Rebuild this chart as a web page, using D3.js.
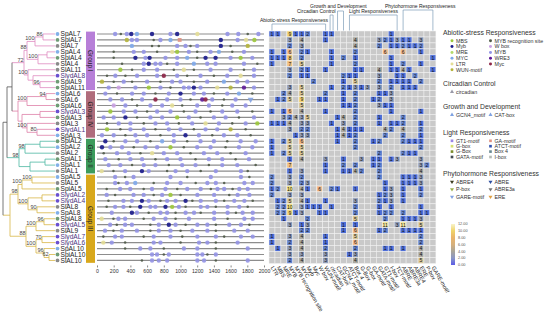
<!DOCTYPE html>
<html>
<head>
<meta charset="utf-8">
<script src="https://cdn.jsdelivr.net/npm/d3@7"></script>
<style>
body { margin: 0; background: #fff; }
svg { font-family: "Liberation Sans", Arial, sans-serif; }
</style>
</head>
<body>
<svg id="chart" width="550" height="323"></svg>
<script>
// ---- data ----
var rowNames = ["SpAL7","SpiAL7","SlAL7","SpAL4","SpiAL4","SlAL4","SlAL11","SlydAL8","SpiAL9","SpiAL11",
  "SpAL6","SlAL6","SpiAL6","SlydAL3","SpiAL3","SlAL3","SlydAL1","SpAL3",
  "SpiAL2","SpAL2","SlAL2","SpiAL1","SpAL1","SlAL1",
  "SpAL5","SlAL5","SpiAL5","SlydAL2","SlydAL4","SlAL8","SpAL8","SpiAL8","SlydAL5","SlAL9","SlydAL7","SlydAL6","SpAL10","SpiAL10","SlAL10"];

var groupNames = ["Group I", "Group IV", "Group II", "Group III"];
var groupSizes = [10, 8, 6, 15];

// tree topology: leaves are row indices, labels are bootstrap values, :n branch lengths
var treeNewick = "(((" +
  "((((0,1)86:8,2)100:8,((3,4):9,5)100:11)88:3,(6,(7,(8,9)96:7):5)100:4)72:12," +
  "(((10,11)94:19,12)100:9,((13,14):18,(15,(16,17)80:10)100:5):4):6):5," +
  "(((18,19):15,20)98:6,((21,22):15,23):11)98:12):4," +
  "((((24,25)100:10,26)100:4,((27,28):14,(29,30)90:9)100:10)98:8," +
  "(((31,32)96:8,33)100:10,((34,35)70:6,(36,(37,38)62:5)96:8)100:10)88:16):7)";

var colNames = ["LTR","MBS","MRE","MYB","MYB recognition site","MYC","Myb","Myc","W box","WUN-motif",
  "circadian","CAT-box","GCN4_motif",
  "ATCT-motif","Box 4","G-Box","G-box","GA-motif","GATA-motif","GT1-motif","I-box","TCT-motif",
  "ABRE","ABRE3a","ABRE4","ERE","P-box","GARE-motif"];
var colGroupNames = ["Abiotic-stress Responsiveness","Circadian Control","Growth and Development","Light Responsiveness","Phytohormone Responsiveness"];
var colGroupSizes = [10, 1, 2, 9, 6];

var counts = [
  [1,1,0,9,1,1,2,0,0,1,1,0,0,0,0,0,0,0,0,0,1,0,0,0,0,0,0,0],
  [0,0,0,3,0,4,0,0,0,1,0,0,0,0,4,0,0,0,3,2,1,3,1,1,0,3,0,0],
  [0,0,0,2,0,3,0,0,0,0,0,0,0,0,4,0,0,0,2,0,1,1,2,1,1,2,0,0],
  [1,0,1,6,0,2,1,0,0,0,1,0,0,0,2,0,0,0,0,6,0,0,6,0,0,1,0,0],
  [1,1,1,8,0,2,0,0,0,0,1,0,2,0,1,0,0,0,0,0,1,0,0,0,0,0,0,1],
  [1,0,0,7,0,5,0,0,0,0,1,0,0,0,2,0,0,0,0,0,1,0,2,0,0,1,0,0],
  [0,0,0,3,0,2,1,0,0,1,0,0,0,0,1,1,0,0,4,0,1,1,4,1,0,0,0,1],
  [0,0,0,2,0,1,1,0,0,0,0,0,2,1,1,0,0,0,3,0,0,1,1,0,2,0,0,0],
  [0,0,0,0,0,0,0,2,0,0,0,0,1,0,5,0,0,0,2,0,1,1,1,1,0,2,0,0],
  [0,0,0,3,0,5,0,0,0,0,1,0,2,1,3,1,3,0,3,0,2,0,1,1,1,0,0,0],
  [0,0,2,4,0,5,0,0,0,2,0,0,1,0,2,0,0,0,1,1,3,0,0,0,0,0,0,0],
  [0,1,2,5,0,9,0,0,1,1,0,0,1,0,2,0,0,1,2,0,3,0,0,0,0,0,0,0],
  [0,0,0,0,0,5,0,0,0,0,0,0,1,1,2,0,0,0,3,1,1,0,0,0,0,0,0,0],
  [1,0,1,6,0,4,0,0,0,1,0,0,0,0,2,0,0,0,0,0,1,0,0,0,0,1,0,0],
  [0,0,3,2,4,3,5,0,0,0,0,1,4,0,2,0,0,0,1,0,0,0,2,0,0,0,0,0],
  [1,1,1,4,0,3,3,0,0,0,1,0,3,0,2,0,0,0,1,0,1,1,2,0,0,1,0,0],
  [0,0,0,3,0,2,2,0,0,0,0,1,4,1,1,1,0,0,0,4,2,0,4,0,0,2,0,0],
  [0,0,0,0,1,3,3,0,0,0,0,1,4,1,2,0,0,0,0,2,0,0,2,0,0,1,0,0],
  [1,0,2,5,0,6,0,0,0,0,0,1,0,0,2,0,0,1,2,0,0,0,2,1,1,1,0,0],
  [1,0,0,5,0,5,0,0,0,0,0,0,0,0,2,0,0,0,0,0,0,0,0,0,0,2,0,0],
  [1,0,2,5,0,5,0,0,0,0,0,0,0,0,0,0,0,0,2,0,0,0,2,1,1,0,0,0],
  [0,0,0,1,0,4,0,0,0,3,0,0,1,0,0,3,0,1,1,0,1,3,0,0,0,3,0,0],
  [0,0,0,7,0,0,0,0,0,1,0,0,2,0,2,0,0,1,2,0,0,0,0,0,0,3,2,0],
  [0,0,0,1,0,3,0,0,0,1,0,0,1,1,4,2,0,0,2,0,0,0,0,0,0,4,0,0],
  [2,0,0,3,0,2,0,0,0,0,0,0,0,0,0,0,0,0,2,0,0,0,1,1,1,3,0,0],
  [2,0,0,3,0,2,3,0,0,0,0,0,0,0,0,0,0,0,0,1,0,0,1,1,1,3,0,0],
  [1,2,0,10,0,4,1,0,6,0,2,1,0,0,1,0,0,0,0,1,3,0,1,0,0,1,0,0],
  [2,0,0,3,0,3,0,0,0,0,0,0,0,0,0,0,0,0,1,2,3,0,1,0,0,2,0,0],
  [0,1,2,5,0,4,1,0,0,1,0,0,0,0,3,0,0,0,2,1,3,0,1,0,0,0,0,0],
  [0,2,2,10,0,3,1,1,1,0,1,0,0,0,2,0,0,0,1,0,1,0,0,0,0,1,0,0],
  [0,2,2,9,1,3,0,0,1,1,0,0,0,0,2,0,0,0,1,2,2,0,2,0,0,1,1,0],
  [0,0,1,0,0,0,2,0,0,0,0,0,0,0,5,0,0,0,0,2,0,0,1,1,1,3,0,0],
  [0,0,0,3,0,1,3,0,0,0,0,0,1,0,1,0,0,0,0,11,0,3,11,0,0,5,0,0],
  [0,0,0,0,0,2,2,0,0,0,0,0,1,0,6,0,0,0,1,2,0,0,1,1,1,1,0,0],
  [1,0,0,3,0,4,0,0,0,1,0,0,0,0,5,0,0,0,0,0,0,0,0,0,0,2,0,0],
  [1,0,0,2,0,4,0,0,0,1,0,0,0,0,6,0,0,0,0,0,0,0,0,0,0,2,0,0],
  [0,1,0,3,0,4,0,0,0,2,0,0,0,0,2,0,0,0,0,1,1,0,1,0,0,4,0,0],
  [0,0,0,3,0,3,0,0,0,3,0,0,0,1,3,0,0,0,0,0,0,0,0,0,0,4,0,0],
  [0,0,0,2,0,4,0,0,0,3,0,0,0,0,4,0,0,0,0,0,0,0,0,0,0,5,0,0]
];

// cis-element sites along the 2000 bp promoters: [position, motif code]
var sites = [
  [[217,"MY"],[285,"RS"],[357,"MY"],[410,"Mb"],[478,"MC"],[659,"Mb"],[880,"MY"],[960,"Mb"],[1202,"LT"],[1563,"MY"],[1692,"MY"],[1805,"RS"],[1933,"MY"]],
  [[357,"WU"],[418,"MY"],[478,"MY"],[679,"RS"],[760,"MY"],[880,"MC"],[990,"Ga"],[1483,"Mb"],[1684,"MY"],[1785,"LT"],[1885,"MS"]],
  [[418,"MC"],[659,"RS"],[740,"RS"],[960,"MY"],[1060,"MY"],[1120,"RS"],[1200,"MY"],[1483,"Mb"],[1600,"RS"],[1805,"WU"]],
  [[200,"RS"],[440,"MY"],[560,"MY"],[720,"RS"],[900,"LT"],[960,"MS"],[1100,"MY"],[1200,"RS"],[1360,"MY"],[1460,"MC"],[1620,"RS"],[1760,"MY"]],
  [[200,"RS"],[460,"Mb"],[580,"MY"],[630,"Mb"],[820,"MY"],[960,"MY"],[1080,"MC"],[1200,"RS"],[1300,"Mb"],[1420,"Mb"],[1600,"MY"],[1720,"MS"],[1860,"MY"]],
  [[300,"RS"],[560,"MY"],[620,"Mb"],[700,"MY"],[760,"MY"],[840,"RS"],[960,"MY"],[1160,"MC"],[1320,"MY"],[1420,"MY"],[1760,"MY"],[1920,"RS"]],
  [[280,"MS"],[420,"RS"],[560,"MY"],[720,"MY"],[920,"RS"],[1040,"LT"],[1160,"RS"],[1360,"MY"],[1600,"MY"],[1760,"RS"],[1880,"MY"]],
  [[120,"RS"],[220,"MY"],[340,"RS"],[480,"MY"],[720,"MY"],[800,"Mc"],[960,"MY"],[1080,"RS"],[1240,"MY"],[1400,"RS"],[1560,"MY"],[1720,"LT"],[1880,"MY"]],
  [[60,"WU"],[200,"RS"],[320,"MY"],[420,"RS"],[600,"MY"],[760,"RS"],[900,"MY"],[1000,"MY"],[1160,"RS"],[1320,"MY"],[1520,"MC"],[1680,"MY"],[1800,"MY"]],
  [[140,"MY"],[260,"WB"],[460,"MY"],[620,"MS"],[760,"MY"],[880,"RS"],[1040,"MY"],[1100,"MY"],[1160,"Mb"],[1240,"MY"],[1440,"LT"],[1600,"WU"],[1760,"W3"],[1880,"MY"]],
  [[100,"MY"],[240,"RS"],[420,"MY"],[560,"MY"],[700,"RS"],[860,"MY"],[1000,"Mb"],[1160,"MY"],[1280,"MY"],[1400,"RS"],[1560,"MY"],[1700,"MC"],[1860,"RS"]],
  [[160,"MY"],[300,"MY"],[420,"RS"],[540,"MY"],[700,"Mc"],[840,"MY"],[1000,"MY"],[1120,"RS"],[1260,"W3"],[1300,"Mc"],[1380,"MY"],[1520,"RS"],[1660,"MY"],[1840,"GR"]],
  [[200,"WB"],[340,"MY"],[480,"RS"],[640,"MY"],[780,"MY"],[900,"LT"],[1020,"RS"],[1200,"MY"],[1340,"MY"],[1500,"RS"],[1620,"MY"],[1780,"MY"]],
  [[160,"MS"],[320,"MY"],[460,"MY"],[600,"RS"],[720,"MY"],[880,"MY"],[1040,"RS"],[1180,"MY"],[1360,"RS"],[1500,"MY"],[1680,"MY"],[1860,"RS"]],
  [[80,"MY"],[200,"MY"],[340,"Mb"],[480,"RS"],[640,"MY"],[780,"MY"],[960,"MS"],[1100,"MY"],[1240,"RS"],[1400,"MY"],[1540,"MY"],[1700,"RS"],[1880,"MY"]],
  [[120,"RS"],[260,"MY"],[400,"MY"],[560,"RS"],[700,"MY"],[840,"MY"],[980,"RS"],[1140,"MY"],[1300,"LT"],[1460,"MY"],[1620,"RS"],[1780,"MY"],[1920,"MS"]],
  [[120,"MS"],[280,"RS"],[400,"MY"],[560,"MY"],[700,"RS"],[860,"MY"],[1000,"MY"],[1160,"RS"],[1300,"MY"],[1440,"MY"],[1600,"WU"],[1780,"RS"]],
  [[60,"MY"],[200,"MY"],[340,"RS"],[460,"MY"],[600,"MY"],[760,"RS"],[920,"MY"],[1060,"Mb"],[1220,"MY"],[1380,"RS"],[1520,"MY"],[1680,"MY"],[1840,"RS"]],
  [[100,"Mb"],[200,"RS"],[340,"MY"],[480,"MY"],[640,"RS"],[780,"MC"],[920,"MY"],[1080,"RS"],[1240,"MY"],[1400,"MY"],[1560,"RS"],[1720,"MY"],[1900,"MY"]],
  [[60,"Mb"],[160,"MY"],[300,"MY"],[440,"RS"],[580,"MY"],[720,"MY"],[880,"MS"],[1040,"RS"],[1200,"MY"],[1360,"MY"],[1540,"RS"],[1700,"MY"],[1860,"MY"]],
  [[80,"RS"],[240,"MY"],[380,"MY"],[520,"RS"],[660,"LT"],[800,"MY"],[960,"MY"],[1120,"RS"],[1280,"MY"],[1440,"MY"],[1600,"RS"],[1780,"MY"]],
  [[100,"MY"],[260,"RS"],[400,"MY"],[540,"MY"],[700,"RS"],[840,"MY"],[1000,"MY"],[1180,"RS"],[1340,"MY"],[1500,"MY"],[1660,"RS"],[1820,"MY"]],
  [[140,"MY"],[280,"MY"],[420,"RS"],[560,"MY"],[700,"MY"],[860,"RS"],[1020,"MY"],[1180,"MY"],[1340,"RS"],[1500,"MY"],[1680,"MY"],[1900,"RS"]],
  [[56,"LT"],[197,"RS"],[337,"MY"],[538,"Mb"],[619,"MY"],[840,"RS"],[941,"MY"],[1081,"MY"],[1242,"RS"],[1423,"MY"],[1724,"MY"],[1805,"RS"]],
  [[217,"MY"],[337,"RS"],[438,"MY"],[880,"MY"],[1081,"RS"],[1363,"MY"],[1724,"MY"],[1825,"RS"]],
  [[217,"MY"],[257,"RS"],[358,"MY"],[458,"MC"],[679,"RS"],[840,"MY"],[1001,"MY"],[1182,"RS"],[1322,"MY"],[1423,"MY"],[1523,"RS"],[1765,"MY"],[1865,"MY"]],
  [[116,"RS"],[277,"MY"],[398,"MY"],[559,"RS"],[659,"MY"],[820,"MY"],[961,"RS"],[1081,"MY"],[1242,"MY"],[1363,"RS"],[1443,"MY"],[1523,"MY"],[1624,"RS"],[1704,"MY"],[1805,"MY"]],
  [[116,"MY"],[217,"RS"],[438,"MY"],[559,"MY"],[679,"RS"],[780,"MY"],[880,"MS"],[1001,"RS"],[1202,"MY"],[1403,"MY"],[1584,"RS"],[1684,"MY"],[1825,"MY"]],
  [[137,"RS"],[317,"MY"],[418,"MY"],[538,"Mb"],[619,"MY"],[760,"RS"],[840,"MY"],[941,"MY"],[1061,"Mb"],[1142,"RS"],[1242,"MY"],[1423,"MY"],[1523,"RS"],[1644,"MY"],[1765,"MY"],[1865,"RS"]],
  [[116,"RS"],[217,"MY"],[317,"MY"],[398,"RS"],[518,"Mb"],[639,"MY"],[699,"MY"],[820,"Mb"],[900,"MS"],[981,"MY"],[1061,"RS"],[1242,"MY"],[1322,"MY"],[1423,"RS"],[1564,"MY"],[1704,"MY"],[1805,"RS"]],
  [[177,"MY"],[418,"Mb"],[478,"MY"],[619,"RS"],[760,"MY"],[840,"MY"],[941,"RS"],[1061,"MY"],[1162,"MY"],[1242,"RS"],[1403,"MY"],[1564,"MY"],[1664,"RS"],[1744,"MY"],[1865,"MY"]],
  [[56,"LT"],[197,"RS"],[257,"MY"],[337,"MY"],[559,"RS"],[679,"MY"],[820,"MY"],[941,"RS"],[1101,"MY"],[1403,"MY"],[1564,"RS"],[1765,"MY"],[1865,"MY"]],
  [[157,"MY"],[237,"RS"],[337,"MY"],[418,"MY"],[639,"RS"],[740,"MY"],[860,"Mb"],[941,"MY"],[1061,"RS"],[1202,"MY"],[1322,"MY"],[1423,"RS"],[1584,"MY"],[1724,"MY"],[1825,"RS"]],
  [[96,"MY"],[197,"RS"],[297,"MY"],[478,"MY"],[639,"RS"],[740,"MY"],[880,"MY"],[1001,"RS"],[1142,"MY"],[1322,"MY"],[1423,"RS"],[1644,"MY"],[1805,"MY"]],
  [[76,"RS"],[217,"MY"],[297,"MY"],[559,"RS"],[679,"MY"],[880,"MY"],[1021,"RS"],[1202,"MY"],[1423,"MY"],[1523,"RS"],[1724,"MY"],[1865,"MY"]],
  [[76,"LT"],[177,"MY"],[337,"RS"],[679,"MY"],[760,"MY"],[1001,"RS"],[1222,"MY"],[1322,"MY"],[1423,"RS"],[1684,"MY"]],
  [[337,"RS"],[518,"MY"],[639,"MY"],[800,"RS"],[1041,"MY"],[1202,"MY"],[1423,"RS"],[1805,"MY"]],
  [[659,"MY"],[719,"MY"],[800,"RS"],[860,"MY"],[1202,"MY"],[1262,"MY"],[1322,"RS"],[1423,"MY"]],
  [[538,"RS"],[659,"MY"],[740,"MY"],[840,"MY"],[1202,"MY"],[1282,"MY"],[1423,"RS"],[1805,"MY"]]
];

var axisTicks = [0,200,400,600,800,1000,1200,1400,1600,1800,2000];
var colorbarTicks = [12,10,8,6,4,2,0];

// ---- styles ----
var motifs = {
  MS: {name: "MBS", color: "#9cc83a", shape: "circle"},
  Mb: {name: "Myb", color: "#1a1a8c", shape: "circle"},
  MR: {name: "MRE", color: "#b4da6a", shape: "circle"},
  MC: {name: "MYC", color: "#7ea8ea", shape: "circle"},
  LT: {name: "LTR", color: "#e4de96", shape: "circle"},
  WU: {name: "WUN-motif", color: "#b5b43c", shape: "circle"},
  RS: {name: "MYB recognition site", color: "#4f5a48", shape: "circle"},
  WB: {name: "W box", color: "#c9a0e2", shape: "circle"},
  MY: {name: "MYB", color: "#9394e6", shape: "circle"},
  W3: {name: "WRE3", color: "#5e1a98", shape: "circle"},
  Mc: {name: "Myc", color: "#8c2446", shape: "circle"},
  CI: {name: "circadian", color: "#9a9aa8", shape: "tri"},
  GC: {name: "GCN4_motif", color: "#7fa2e2", shape: "tri"},
  CA: {name: "CAT-box", color: "#7fa2e2", shape: "tri"},
  GT: {name: "GT1-motif", color: "#9a86e6", shape: "square"},
  Gb: {name: "G-box", color: "#d6e070", shape: "square"},
  GB: {name: "G-Box", color: "#7c8c2c", shape: "square"},
  GA: {name: "GATA-motif", color: "#424a52", shape: "square"},
  Ga: {name: "GA-motif", color: "#e09282", shape: "square"},
  AT: {name: "ATCT-motif", color: "#3050b0", shape: "square"},
  B4: {name: "Box 4", color: "#6a8a92", shape: "square"},
  IB: {name: "I-box", color: "#b4bab4", shape: "square"},
  A4: {name: "ABRE4", color: "#3c3c1e", shape: "itri"},
  PB: {name: "P-box", color: "#9cb04e", shape: "itri"},
  GR: {name: "GARE-motif", color: "#82a2e2", shape: "itri"},
  AB: {name: "ABRE", color: "#2e4ea0", shape: "itri"},
  A3: {name: "ABRE3a", color: "#747474", shape: "itri"},
  ER: {name: "ERE", color: "#e0a044", shape: "itri"}
};
var legendSections = [
  {title: colGroupNames[0], y: 35, step: 5.8, left: ["MS","Mb","MR","MC","LT","WU"], right: ["RS","WB","MY","W3","Mc"]},
  {title: colGroupNames[1], y: 86, step: 6, left: ["CI"], right: []},
  {title: colGroupNames[2], y: 109, step: 6, left: ["GC"], right: ["CA"]},
  {title: colGroupNames[3], y: 135, step: 5.4, left: ["GT","Gb","GB","GA"], right: ["Ga","AT","B4","IB"]},
  {title: colGroupNames[4], y: 176, step: 7.5, left: ["A4","PB","GR"], right: ["AB","A3","ER"]}
];

var groupBarColors = ["#b77fd8", "#b06d7c", "#3d9b5c", "#d8a81c"];
var groupLineColors = ["#e08cc0", "#de80a8", "#4cb8a2", "#d8b648"];
var speciesColors = {Sp: "#82b0e8", Spi: "#6f9c76", Sl: "#8a8a8a", Slyd: "#6a50d0"};

var svg = d3.select("#chart");
var rowH = 5.96, topY = 31;
var rowY = function (i) { return topY + rowH * (i + 0.5); };

// group index per row
var rowGroup = [];
groupSizes.forEach(function (n, g) { for (var k = 0; k < n; k++) rowGroup.push(g); });

// ---- tree ----
function parseNewick(s) {
  var i = 0;
  function node() {
    var n = {};
    if (s[i] === "(") {
      i++;
      n.children = [];
      do { n.children.push(node()); } while (s[i++] === ",");
    }
    var tok = "";
    while (i < s.length && ",():".indexOf(s[i]) < 0) tok += s[i++];
    var len = 0;
    if (s[i] === ":") {
      i++;
      var l = "";
      while (i < s.length && ",()".indexOf(s[i]) < 0) l += s[i++];
      len = +l;
    }
    if (n.children) n.support = tok; else n.leaf = +tok;
    n.len = len;
    return n;
  }
  return node();
}

var root = d3.hierarchy(parseNewick(treeNewick));
var rootX = 3, leafX = 55;
root.each(function (d) {
  if (!d.parent) d.x = rootX;
  else if (d.children) d.x = d.parent.x + d.data.len;
  else d.x = leafX;
});
root.eachAfter(function (d) {
  if (!d.children) { d.y = rowY(d.data.leaf); d.g = rowGroup[d.data.leaf]; }
  else {
    d.y = (d.children[0].y + d.children[d.children.length - 1].y) / 2;
    var gs = d.children.map(function (c) { return c.g; });
    d.g = gs.every(function (g) { return g === gs[0] && g >= 0; }) ? gs[0] : -1;
  }
});
var lineColor = function (d) { return d.g >= 0 ? groupLineColors[d.g] : "#555"; };

var tree = svg.append("g").attr("fill", "none").attr("stroke-width", 0.8);
tree.selectAll("line.h")
  .data(root.descendants().filter(function (d) { return d.parent; }))
  .enter().append("line")
  .attr("x1", function (d) { return d.parent.x; })
  .attr("x2", function (d) { return d.x; })
  .attr("y1", function (d) { return d.y; })
  .attr("y2", function (d) { return d.y; })
  .attr("stroke", lineColor);
tree.selectAll("line.v")
  .data(root.descendants().filter(function (d) { return d.children; }))
  .enter().append("line")
  .attr("x1", function (d) { return d.x; })
  .attr("x2", function (d) { return d.x; })
  .attr("y1", function (d) { return d.children[0].y; })
  .attr("y2", function (d) { return d.children[d.children.length - 1].y; })
  .attr("stroke", lineColor);

svg.selectAll("text.boot")
  .data(root.descendants().filter(function (d) { return d.children && d.data.support; }))
  .enter().append("text")
  .attr("class", "boot")
  .attr("x", function (d) { return d.x - 0.5; })
  .attr("y", function (d) { return d.y - 1; })
  .attr("text-anchor", "end")
  .attr("font-size", 5.5)
  .attr("fill", "#444")
  .text(function (d) { return d.data.support; });

// leaf labels
function species(name) { return name.match(/^(Slyd|Spi|Sp|Sl)/)[1]; }
svg.selectAll("circle.leaf")
  .data(rowNames)
  .enter().append("circle")
  .attr("cx", 57.5)
  .attr("cy", function (d, i) { return rowY(i); })
  .attr("r", 1.9)
  .attr("fill", function (d) { return speciesColors[species(d)]; });
svg.selectAll("text.leaf")
  .data(rowNames)
  .enter().append("text")
  .attr("x", 60.5)
  .attr("y", function (d, i) { return rowY(i) + 2.2; })
  .attr("font-size", 6.6)
  .attr("fill", function (d) { return species(d) === "Slyd" ? "#4a3480" : "#222"; })
  .text(function (d) { return d; });

// group bars
var gStart = 0;
groupNames.forEach(function (name, g) {
  var y0 = topY + gStart * rowH + 0.6, y1 = topY + (gStart + groupSizes[g]) * rowH - 0.6;
  svg.append("rect").attr("x", 86).attr("y", y0).attr("width", 9).attr("height", y1 - y0)
    .attr("fill", groupBarColors[g]);
  svg.append("text")
    .attr("transform", "translate(88.2," + ((y0 + y1) / 2) + ") rotate(90)")
    .attr("text-anchor", "middle")
    .attr("font-size", 6.5)
    .attr("fill", "#222")
    .text(name);
  gStart += groupSizes[g];
});

// ---- promoter sites ----
var x = d3.scaleLinear().domain([0, 2000]).range([97, 264]);
svg.selectAll("line.prom")
  .data(rowNames)
  .enter().append("line")
  .attr("x1", x(0)).attr("x2", x(2000))
  .attr("y1", function (d, i) { return rowY(i); })
  .attr("y2", function (d, i) { return rowY(i); })
  .attr("stroke", "#8d8d8d")
  .attr("stroke-width", 1.2);

var symbolFor = {
  circle: d3.symbol().type(d3.symbolCircle),
  tri: d3.symbol().type(d3.symbolTriangle),
  square: d3.symbol().type(d3.symbolSquare),
  itri: d3.symbol().type(d3.symbolTriangle)
};
function markPath(code, size) { return symbolFor[motifs[code].shape].size(size)(); }

sites.forEach(function (row, i) {
  svg.append("g").selectAll("path")
    .data(row)
    .enter().append("path")
    .attr("d", function (d) { return markPath(d[1], d[1] === "RS" ? 5 : 15); })
    .attr("transform", function (d) {
      return "translate(" + x(d[0]) + "," + rowY(i) + ")" + (motifs[d[1]].shape === "itri" ? " rotate(180)" : "");
    })
    .attr("fill", function (d) { return motifs[d[1]].color; })
    .attr("fill-opacity", 0.9);
});

var ax = svg.append("g")
  .attr("transform", "translate(0," + (topY + rowNames.length * rowH + 2) + ")")
  .call(d3.axisBottom(x).tickValues(axisTicks).tickSize(2).tickPadding(2).tickFormat(d3.format("d")));
ax.select(".domain").remove();
ax.selectAll("line").attr("stroke", "#888");
ax.selectAll("text").attr("font-size", 5.2).attr("fill", "#333").attr("font-family", "Liberation Sans, Arial, sans-serif");

// ---- heatmap ----
var hx0 = 269, cw = 5.96;
var colX = function (j) { return hx0 + cw * j; };
var heat = d3.scaleLinear()
  .domain([1, 2, 3, 4, 5, 6, 8, 10, 12])
  .range(["#4e6ed6", "#6584ce", "#8f9cb8", "#aaa9a2", "#d8c79a", "#f1bc8e", "#f2c878", "#f0e078", "#f7f2c4"]);

var cells = [];
counts.forEach(function (row, i) { row.forEach(function (v, j) { cells.push({r: i, c: j, v: v}); }); });

svg.append("g").selectAll("rect")
  .data(cells)
  .enter().append("rect")
  .attr("x", function (d) { return colX(d.c); })
  .attr("y", function (d) { return topY + d.r * rowH; })
  .attr("width", cw).attr("height", rowH)
  .attr("fill", function (d) { return d.v ? heat(d.v) : "#c9c9c9"; })
  .attr("stroke", "#f2f2f2")
  .attr("stroke-width", 0.5);

svg.append("g").selectAll("text")
  .data(cells.filter(function (d) { return d.v; }))
  .enter().append("text")
  .attr("x", function (d) { return colX(d.c) + cw / 2; })
  .attr("y", function (d) { return topY + d.r * rowH + rowH / 2 + 1.8; })
  .attr("text-anchor", "middle")
  .attr("font-size", 5)
  .attr("fill", "#111")
  .text(function (d) { return d.v; });

// column labels
var hBottom = topY + rowNames.length * rowH;
svg.selectAll("text.col")
  .data(colNames)
  .enter().append("text")
  .attr("transform", function (d, j) { return "translate(" + (colX(j) + cw / 2 - 1.5) + "," + (hBottom + 4) + ") rotate(60)"; })
  .attr("font-size", 5.6)
  .attr("fill", "#222")
  .text(function (d) { return d; });

// category brackets
var bracketY = [24, 15, 11, 15, 10];
var bracketTextY = [22, 13, 7.5, 13, 7.5];
var bracketTextX = [260, 297, 310, 349, 385];
var c0 = 0;
colGroupNames.forEach(function (name, k) {
  var xa = colX(c0) + cw / 2, xb = colX(c0 + colGroupSizes[k] - 1) + cw / 2;
  if (colGroupSizes[k] === 1) { xa -= 1.5; xb += 1.5; }
  svg.append("path")
    .attr("d", "M" + xa + "," + (topY - 0.5) + "V" + bracketY[k] + "H" + xb + "V" + (topY - 0.5))
    .attr("fill", "none").attr("stroke", "#7d9cb8").attr("stroke-width", 0.7);
  svg.append("text")
    .attr("x", bracketTextX[k]).attr("y", bracketTextY[k])
    .attr("font-size", 5).attr("fill", "#222")
    .text(name);
  c0 += colGroupSizes[k];
});

// ---- legend ----
var lg = svg.append("g");
legendSections.forEach(function (sec) {
  lg.append("text").attr("x", 443).attr("y", sec.y).attr("font-size", 6.8).attr("fill", "#333").text(sec.title);
  [[sec.left, 452, 456], [sec.right, 490.5, 494.5]].forEach(function (col) {
    col[0].forEach(function (code, k) {
      var yy = sec.y + 7.5 + k * sec.step;
      lg.append("path")
        .attr("d", markPath(code, 7))
        .attr("transform", "translate(" + col[1] + "," + (yy - 1.7) + ")" + (motifs[code].shape === "itri" ? " rotate(180)" : ""))
        .attr("fill", motifs[code].color);
      lg.append("text").attr("x", col[2]).attr("y", yy).attr("font-size", 5.3).attr("fill", "#333").text(motifs[code].name);
    });
  });
});

// colour bar
var cb = d3.scaleLinear().domain([0, 12]).range([265, 224]);
var grad = svg.append("defs").append("linearGradient").attr("id", "cbar")
  .attr("x1", 0).attr("y1", 1).attr("x2", 0).attr("y2", 0);
[[0, "#5a5ae8"], [2 / 12, "#8a96c6"], [4 / 12, "#aaa598"], [6 / 12, "#d6b07c"], [8 / 12, "#eab46a"], [10 / 12, "#efd46a"], [1, "#f8f4cc"]]
  .forEach(function (s) { grad.append("stop").attr("offset", s[0]).attr("stop-color", s[1]); });
svg.append("rect").attr("x", 451).attr("y", cb(12)).attr("width", 4).attr("height", cb(0) - cb(12)).attr("fill", "url(#cbar)");
svg.selectAll("text.cb")
  .data(colorbarTicks)
  .enter().append("text")
  .attr("x", 458).attr("y", function (d) { return cb(d) + 1.3; })
  .attr("font-size", 3.8).attr("fill", "#555")
  .text(function (d) { return d.toFixed(2); });
</script>
</body>
</html>
